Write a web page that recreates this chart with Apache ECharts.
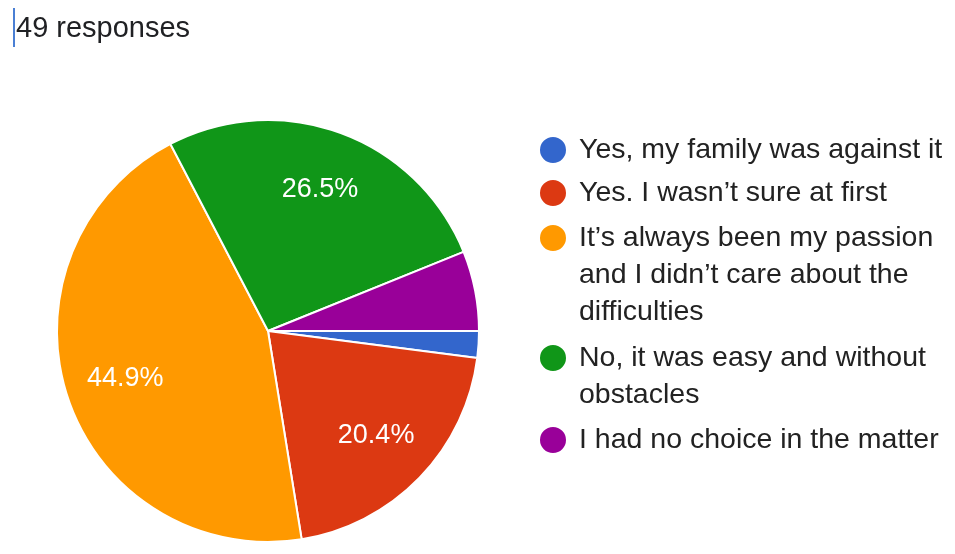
<!DOCTYPE html>
<html>
<head>
<meta charset="utf-8">
<script src="https://cdn.jsdelivr.net/npm/echarts@6/dist/echarts.min.js"></script>
<style>
html, body { margin: 0; padding: 0; background: #fff; }
#chart { width: 955px; height: 554px; }
</style>
</head>
<body>
<div id="chart"></div>
<script>
// 49 responses
var names = [
    'Yes, my family was against it',
    'Yes. I wasn\u2019t sure at first',
    'It\u2019s always been my passion and I didn\u2019t care about the difficulties',
    'No, it was easy and without obstacles',
    'I had no choice in the matter'
];
var legendLines = [
    ['Yes, my family was against it'],
    ['Yes. I wasn\u2019t sure at first'],
    ['It\u2019s always been my passion', 'and I didn\u2019t care about the', 'difficulties'],
    ['No, it was easy and without', 'obstacles'],
    ['I had no choice in the matter']
];
var counts = [1, 10, 22, 13, 3];
var colors = ['#3366cc', '#dc3912', '#ff9900', '#109618', '#990099'];

var FONT = 'Arial, "Liberation Sans", sans-serif';
var LINE_H = 37;
// y of each legend marker centre
var markerY = [149, 192, 237, 357, 439];

var pieData = [];
for (var i = 0; i < names.length; i++) {
    pieData.push({name: names[i], value: counts[i], itemStyle: {color: colors[i]}});
}

var legends = [];
for (var k = 0; k < names.length; k++) {
    var n = legendLines[k].length;
    var pad = (n - 1) * LINE_H;
    legends.push({
        orient: 'vertical',
        left: 538,
        top: markerY[k] - 14,
        padding: 0,
        icon: 'circle',
        itemWidth: 28,
        itemHeight: 28,
        selectedMode: false,
        data: [names[k]],
        formatter: (function (idx) {
            return function () {
                return legendLines[idx].map(function (s) { return '{t|' + s + '}'; }).join('\n');
            };
        })(k),
        textStyle: {
            padding: [pad, 0, 0, 7],
            rich: {
                t: {
                    fontFamily: FONT,
                    fontSize: 28.5,
                    lineHeight: LINE_H,
                    color: '#222'
                }
            }
        }
    });
}

var option = {
    animation: false,
    backgroundColor: '#fff',
    title: {
        text: '49 responses',
        left: 16,
        top: 14,
        padding: 0,
        textStyle: {
            fontFamily: FONT,
            fontSize: 29,
            lineHeight: 29,
            fontWeight: 'normal',
            color: '#202124'
        }
    },
    graphic: [{
        type: 'rect',
        shape: {x: 13, y: 8, width: 2, height: 39},
        style: {fill: '#4a7fd4'}
    }],
    legend: legends,
    series: [
        {
            type: 'pie',
            center: [268, 331],
            radius: [0, 211],
            startAngle: 0,
            clockwise: true,
            silent: true,
            itemStyle: {borderColor: '#fff', borderWidth: 2},
            label: {show: false},
            labelLine: {show: false},
            emphasis: {disabled: true},
            data: pieData
        },
        {
            type: 'pie',
            center: [268, 331],
            radius: [84, 211],
            startAngle: 0,
            clockwise: true,
            silent: true,
            percentPrecision: 1,
            itemStyle: {opacity: 0, borderWidth: 0},
            label: {
                show: true,
                position: 'inside',
                fontFamily: FONT,
                fontSize: 27,
                color: '#fff',
                opacity: 1,
                formatter: function (p) {
                    return p.percent >= 10 ? p.percent.toFixed(1) + '%' : '';
                }
            },
            labelLine: {show: false},
            emphasis: {disabled: true},
            data: pieData
        }
    ]
};

var myChart = echarts.init(document.getElementById('chart'));
myChart.setOption(option);
</script>
</body>
</html>
